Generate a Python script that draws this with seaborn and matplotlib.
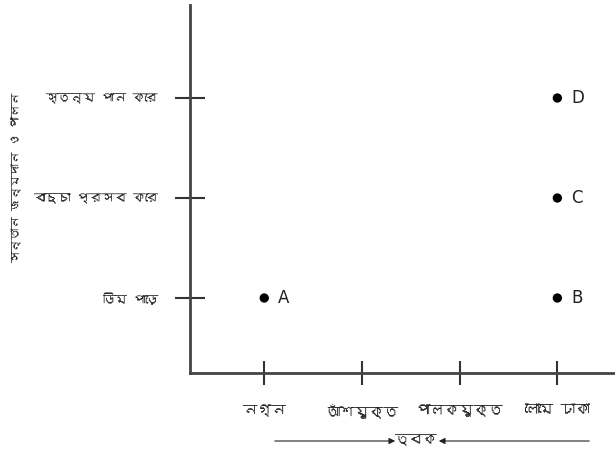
import seaborn as sns
import matplotlib.pyplot as plt
import matplotlib.font_manager as fm
from matplotlib.ft2font import FT2Font
from matplotlib.patches import FancyArrowPatch
import pandas as pd

# data
x_cats = ['নগ্ন', 'আঁশযুক্ত', 'পালকযুক্ত', 'লোমে ঢাকা']
y_cats = ['ডিম পাড়ে', 'বাচ্চা প্রসব করে', 'স্তন্য পান করে']
point_names = ['A', 'B', 'C', 'D']
point_skin = ['নগ্ন', 'লোমে ঢাকা', 'লোমে ঢাকা', 'লোমে ঢাকা']
point_birth = ['ডিম পাড়ে', 'ডিম পাড়ে', 'বাচ্চা প্রসব করে', 'স্তন্য পান করে']
x_title = 'ত্বক'
y_title = 'সন্তান জন্মদান ও পালন'

# find a font that has bengali glyphs
beng = None
for f in fm.fontManager.ttflist:
    try:
        if 0x0995 in FT2Font(f.fname).get_charmap():
            beng = f.name
            break
    except Exception:
        pass

sns.set_style('white')
fams = ([beng] if beng else []) + ['DejaVu Sans']
plt.rcParams['font.family'] = fams

df = pd.DataFrame({'name': point_names, 'skin': point_skin, 'birth': point_birth})
df['x'] = [x_cats.index(s) for s in df['skin']]
df['y'] = [y_cats.index(s) for s in df['birth']]

fig = plt.figure(figsize=(6.15, 4.68), dpi=100)
ax = fig.add_axes([190 / 615, 1 - 373 / 468, 425 / 615, 368 / 468])
sns.scatterplot(data=df, x='x', y='y', ax=ax, color='black', s=45, edgecolor='none', legend=False)
for _, r in df.iterrows():
    ax.annotate(r['name'], (r['x'], r['y']), xytext=(10, 0), textcoords='offset points',
                va='center', ha='left', fontsize=12, color='#222222', family='DejaVu Sans')

ax.set_xlim(-0.76, 3.59)
ax.set_ylim(-0.75, 2.93)
ax.set_xticks(range(len(x_cats)))
ax.set_xticklabels(x_cats)
ax.set_yticks(range(len(y_cats)))
ax.set_yticklabels(y_cats)
ax.tick_params(axis='x', direction='inout', length=17, width=1.5, color='#333333',
               labelsize=10.5, pad=14, bottom=True)
ax.tick_params(axis='y', direction='inout', length=22, width=1.5, color='#333333',
               labelsize=9, pad=12, left=True)
ax.set_xlabel('')
ax.set_ylabel(y_title, fontsize=8.5)
ax.yaxis.set_label_coords(-0.395, 0.53)
for s in ['top', 'right']:
    ax.spines[s].set_visible(False)
for s in ['left', 'bottom']:
    ax.spines[s].set_color('#444444')
    ax.spines[s].set_linewidth(2)

# x title with arrows
fig.text(416 / 615, 1 - 440 / 468, x_title, ha='center', va='center', fontsize=10)
fig.add_artist(FancyArrowPatch(
    (272 / 615, 1 - 441 / 468), (398 / 615, 1 - 441 / 468), transform=fig.transFigure,
    arrowstyle='-|>', mutation_scale=9, color='#222222', lw=0.8))
fig.add_artist(FancyArrowPatch(
    (592 / 615, 1 - 441 / 468), (436 / 615, 1 - 441 / 468), transform=fig.transFigure,
    arrowstyle='-|>', mutation_scale=9, color='#222222', lw=0.8))

fig.savefig('out.png', dpi=100)
